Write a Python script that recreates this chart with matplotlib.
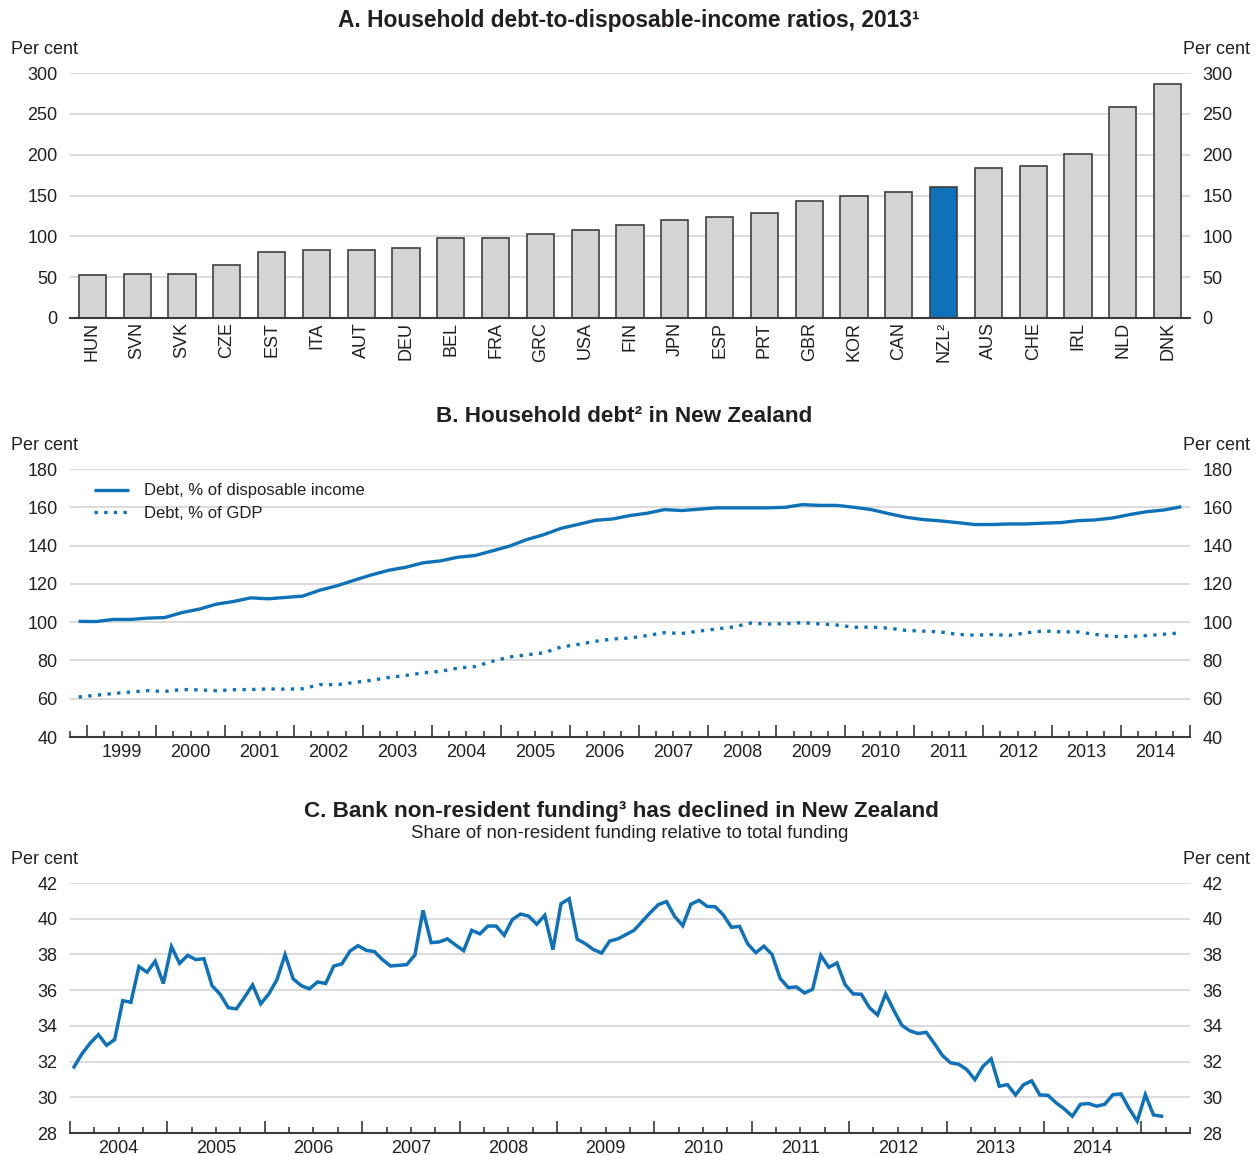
import numpy as np
import matplotlib
matplotlib.use("Agg")
import matplotlib.pyplot as plt
from matplotlib.ticker import FixedLocator, FuncFormatter

plt.rcParams['font.family'] = ['Liberation Sans', 'DejaVu Sans']

# ---------------- Data ----------------
countries = ['HUN', 'SVN', 'SVK', 'CZE', 'EST', 'ITA', 'AUT', 'DEU', 'BEL', 'FRA',
             'GRC', 'USA', 'FIN', 'JPN', 'ESP', 'PRT', 'GBR', 'KOR', 'CAN', 'NZL²',
             'AUS', 'CHE', 'IRL', 'NLD', 'DNK']
ratios_2013 = [52.6, 53.4, 53.4, 65.2, 80.3, 83.1, 83.1, 85.6, 97.4, 97.4,
               102.3, 107.2, 113.7, 120.6, 123.9, 128.8, 143.4, 150.0, 154.8, 160.1,
               184.2, 186.2, 201.3, 258.4, 286.1]

# Quarterly, 1998Q4 - 2014Q4
debt_income = [100.4, 100.3, 101.4, 101.4, 102.1, 102.4, 105.0, 106.8, 109.4, 110.8,
               112.7, 112.2, 112.9, 113.6, 116.7, 119.0, 121.9, 124.7, 127.1, 128.7,
               131.0, 132.0, 133.9, 134.8, 137.2, 139.7, 143.1, 145.7, 149.0, 151.1,
               153.2, 153.9, 155.7, 156.9, 158.8, 158.3, 159.0, 159.7, 159.7, 159.7,
               159.7, 160.0, 161.4, 161.0, 161.0, 160.0, 158.8, 156.7, 154.8, 153.6,
               152.9, 152.0, 151.0, 151.0, 151.3, 151.3, 151.7, 152.0, 153.0, 153.4,
               154.4, 156.2, 157.7, 158.6, 160.3]
debt_gdp = [60.9, 61.8, 62.7, 63.5, 64.2, 63.8, 64.8, 64.6, 64.2, 64.7,
            64.8, 65.1, 65.0, 65.2, 67.4, 67.3, 68.5, 69.6, 71.1, 72.2,
            73.5, 74.3, 76.0, 76.8, 79.5, 81.8, 82.9, 84.0, 87.0, 88.4,
            90.0, 91.2, 91.7, 93.0, 94.5, 94.1, 95.3, 96.4, 97.5, 99.5,
            99.0, 99.2, 99.7, 99.1, 98.5, 97.3, 97.4, 96.9, 95.7, 95.3,
            94.9, 93.6, 93.2, 93.5, 93.1, 94.4, 95.4, 94.9, 94.9, 93.6,
            92.5, 92.5, 93.0, 93.7, 94.4]

# Monthly, Jan 2004 - Mar 2015
nonres_funding = [31.70, 32.45, 33.04, 33.51, 32.91, 33.23, 35.41, 35.32, 37.32, 37.00,
                  37.62, 36.37, 38.44, 37.50, 37.95, 37.71, 37.76, 36.25, 35.77, 35.02,
                  34.95, 35.60, 36.29, 35.23, 35.79, 36.59, 37.99, 36.63, 36.25, 36.07,
                  36.46, 36.37, 37.35, 37.47, 38.19, 38.49, 38.23, 38.16, 37.71, 37.35,
                  37.39, 37.43, 37.97, 40.47, 38.66, 38.70, 38.87, 38.53, 38.21, 39.35,
                  39.15, 39.59, 39.59, 39.07, 39.95, 40.26, 40.15, 39.69, 40.19, 38.27,
                  40.84, 41.12, 38.85, 38.60, 38.27, 38.08, 38.75, 38.87, 39.11, 39.35,
                  39.85, 40.34, 40.79, 40.96, 40.13, 39.61, 40.81, 41.03, 40.69, 40.67,
                  40.21, 39.52, 39.57, 38.59, 38.10, 38.46, 38.00, 36.66, 36.14, 36.18,
                  35.84, 36.05, 37.95, 37.28, 37.52, 36.31, 35.79, 35.77, 35.02, 34.61,
                  35.79, 34.87, 34.03, 33.72, 33.57, 33.64, 33.01, 32.34, 31.93, 31.85,
                  31.55, 30.99, 31.74, 32.15, 30.62, 30.71, 30.13, 30.71, 30.92, 30.13,
                  30.11, 29.69, 29.35, 28.94, 29.61, 29.65, 29.50, 29.61, 30.15, 30.19,
                  29.37, 28.66, 30.15, 29.01, 28.94]

# ---------------- Style ----------------
BLUE = '#0f72b9'
GREY_BAR = '#d3d4d6'
EDGE = '#404040'
GRID = '#d9d9d9'
TXT = '#231f20'
FS = 13

W_PX, H_PX = 1259, 1155
fig = plt.figure(figsize=(W_PX / 100, H_PX / 100), dpi=100)


def add_ax(top_px, bottom_px, left_px=70, right_px=1190):
    return fig.add_axes([left_px / W_PX, 1 - bottom_px / H_PX,
                         (right_px - left_px) / W_PX, (bottom_px - top_px) / H_PX])


def style(ax):
    for s in ('top', 'left', 'right'):
        ax.spines[s].set_visible(False)
    ax.spines['bottom'].set_color('#3a3a3a')
    ax.spines['bottom'].set_linewidth(1.5)
    ax.spines['bottom'].set_zorder(5)
    ax.yaxis.grid(True, color=GRID, linewidth=1.3)
    ax.set_axisbelow(True)
    ax.tick_params(axis='y', which='both', length=0, labelleft=True, labelright=True,
                   pad=9, labelsize=FS, labelcolor=TXT)


def time_axis(ax, x0, x1, label_years):
    years = np.arange(np.ceil(x0), np.floor(x1) + 1)
    quarters = [q for q in np.arange(x0, x1 + 0.001, 0.25) if abs(q - round(q)) > 1e-6]
    ax.xaxis.set_major_locator(FixedLocator(years))
    ax.xaxis.set_minor_locator(FixedLocator(quarters))
    ax.xaxis.set_major_formatter(FuncFormatter(lambda v, p: ''))
    lab = set(label_years)
    ax.xaxis.set_minor_formatter(FuncFormatter(
        lambda v, p: str(int(np.floor(v))) if abs(v % 1 - 0.5) < 1e-6 and int(np.floor(v)) in lab else ''))
    ax.tick_params(axis='x', which='major', direction='in', length=8.5, width=1.2,
                   color='#3a3a3a', pad=5)
    ax.tick_params(axis='x', which='minor', direction='in', length=4.5, width=1.2,
                   color='#3a3a3a', pad=5, labelsize=FS, labelcolor=TXT)
    ax.set_xlim(x0, x1)


# ---------------- Panel A ----------------
axA = add_ax(73, 318)
style(axA)
xpos = np.arange(len(countries))
bar_colors = [BLUE if c.startswith('NZL') else GREY_BAR for c in countries]
axA.bar(xpos, ratios_2013, width=0.61, color=bar_colors, edgecolor=EDGE,
        linewidth=1.2, zorder=3)
axA.set_xlim(-0.5, len(countries) - 0.5)
axA.set_ylim(0, 300)
axA.set_yticks(np.arange(0, 301, 50))
axA.set_xticks(xpos)
axA.set_xticklabels(countries, rotation=90, fontsize=FS, color=TXT)
axA.tick_params(axis='x', length=0, pad=3)

# ---------------- Panel B ----------------
axB = add_ax(469, 737)
style(axB)
tq = 1998.875 + 0.25 * np.arange(len(debt_income))
axB.plot(tq, debt_income, color=BLUE, lw=2.4, solid_capstyle='butt',
         label='Debt, % of disposable income', zorder=3)
axB.plot(tq, debt_gdp, color=BLUE, lw=2.4, linestyle=(0, (1, 1.9)), dash_capstyle='butt',
         label='Debt, % of GDP', zorder=3)
axB.set_ylim(40, 180)
axB.set_yticks(np.arange(40, 181, 20))
time_axis(axB, 1998.75, 2015.0, range(1999, 2015))
axB.legend(loc='upper left', bbox_to_anchor=(0.021, 0.946), frameon=False,
           fontsize=12, handlelength=2.1, handletextpad=0.95, labelspacing=0.45,
           borderaxespad=0, borderpad=0, labelcolor=TXT)

# ---------------- Panel C ----------------
axC = add_ax(883, 1133)
style(axC)
tm = 2004 + (np.arange(len(nonres_funding)) + 0.5) / 12
axC.plot(tm, nonres_funding, color=BLUE, lw=2.5, solid_joinstyle='miter', zorder=3)
axC.set_ylim(28, 42)
axC.set_yticks(np.arange(28, 43, 2))
time_axis(axC, 2004.0, 2015.5, range(2004, 2015))

# ---------------- Titles / labels ----------------
def ftext(x_px, y_px, s, **kw):
    fig.text(x_px / W_PX, 1 - y_px / H_PX, s, color=TXT, **kw)

ftext(629, 20, 'A. Household debt-to-disposable-income ratios, 2013¹',
      ha='center', va='center', fontsize=16.4, fontweight='bold')
ftext(624, 416, 'B. Household debt² in New Zealand',
      ha='center', va='center', fontsize=16.2, fontweight='bold')
ftext(621, 812, 'C. Bank non-resident funding³ has declined in New Zealand',
      ha='center', va='center', fontsize=16.2, fontweight='bold')
ftext(630, 833, 'Share of non-resident funding relative to total funding',
      ha='center', va='center', fontsize=13.4)

for y in (50, 446, 860):
    ftext(11, y, 'Per cent', ha='left', va='center', fontsize=FS)
    ftext(1250, y, 'Per cent', ha='right', va='center', fontsize=FS)

fig.savefig('out.png', dpi=100)
